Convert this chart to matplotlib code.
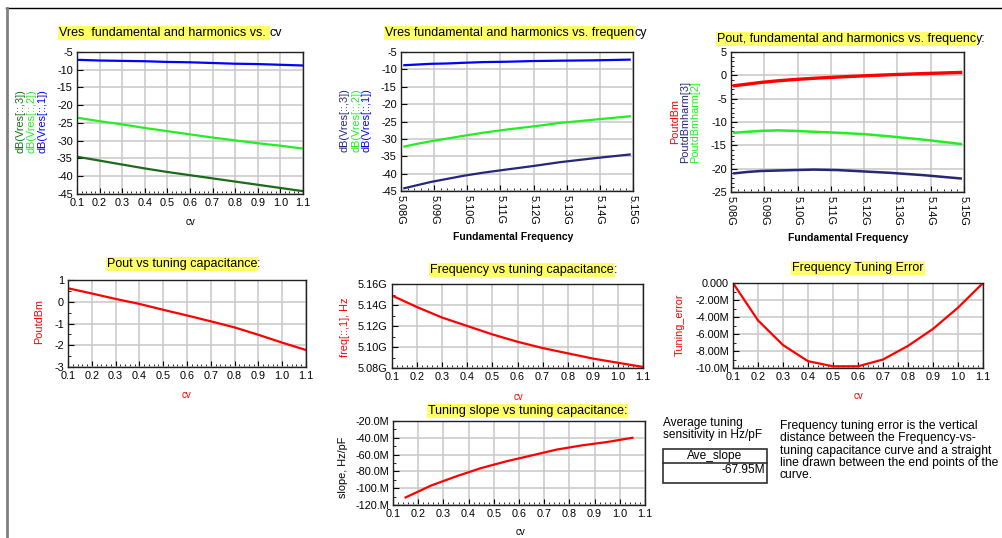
import matplotlib
matplotlib.use("Agg")
import matplotlib.pyplot as plt
from matplotlib.patches import Rectangle
from matplotlib.lines import Line2D
from matplotlib.text import Annotation
from matplotlib.ticker import MultipleLocator

plt.rcParams["font.family"] = ["Liberation Sans", "DejaVu Sans"]
plt.rcParams["axes.unicode_minus"] = False

W, H = 1002, 538

cv = [0.1, 0.2, 0.3, 0.4, 0.5, 0.6, 0.7, 0.8, 0.9, 1.0, 1.1]
freq_ghz = [5.149, 5.138, 5.128, 5.120, 5.112, 5.105, 5.099, 5.094, 5.089, 5.085, 5.081]

vres_fund = [-7.2, -7.4, -7.5, -7.6, -7.8, -7.9, -8.1, -8.3, -8.4, -8.6, -8.8]
vres_h2 = [-23.5, -24.5, -25.4, -26.4, -27.3, -28.2, -29.1, -29.9, -30.7, -31.4, -32.2]
vres_h3 = [-34.5, -35.6, -36.7, -37.8, -38.8, -39.7, -40.6, -41.5, -42.4, -43.3, -44.2]

pout_dbm = [0.62, 0.38, 0.13, -0.10, -0.37, -0.63, -0.90, -1.18, -1.52, -1.88, -2.22]
pout_h2 = [-14.7, -13.8, -13.1, -12.6, -12.3, -12.1, -11.9, -11.8, -11.9, -12.1, -12.3]
pout_h3 = [-22.1, -21.4, -20.9, -20.6, -20.3, -20.2, -20.3, -20.4, -20.5, -20.7, -21.0]

tuning_error_m = [0.0, -4.4, -7.3, -9.2, -9.8, -9.8, -9.0, -7.4, -5.4, -2.9, 0.0]

cv_mid = [0.15, 0.25, 0.35, 0.45, 0.55, 0.65, 0.75, 0.85, 0.95, 1.05]
slope_m = [-111, -97, -86, -76, -68, -61, -54, -49, -45, -40]
ave_slope = "-67.95M"

cv_ticks = [0.1, 0.2, 0.3, 0.4, 0.5, 0.6, 0.7, 0.8, 0.9, 1.0, 1.1]
f_ticks = [5.08, 5.09, 5.10, 5.11, 5.12, 5.13, 5.14, 5.15]
f_labels = ["5.08G", "5.09G", "5.10G", "5.11G", "5.12G", "5.13G", "5.14G", "5.15G"]
fy_ticks = [5.08, 5.10, 5.12, 5.14, 5.16]
fy_labels = ["5.08G", "5.10G", "5.12G", "5.14G", "5.16G"]
err_ticks = [-10, -8, -6, -4, -2, 0]
err_labels = ["-10.0M", "-8.00M", "-6.00M", "-4.00M", "-2.00M", "0.000"]
slope_ticks = [-120, -100, -80, -60, -40, -20]
slope_labels = ["-120.M", "-100.M", "-80.0M", "-60.0M", "-40.0M", "-20.0M"]

BLUE = "#0000ff"
GREEN = "#22ee22"
DKGREEN = "#1b6b1b"
NAVY = "#26267a"
RED = "#ff0000"
HILITE = "#ffff66"

fig = plt.figure(figsize=(W / 100, H / 100), dpi=100)


def fx(x):
    return x / W


def fy(y):
    return 1 - y / H


def panel(left, top, right, bottom):
    ax = fig.add_axes([fx(left), fy(bottom), (right - left) / W, (bottom - top) / H])
    ax.grid(True, color="#c8c8c8", linewidth=1.1)
    ax.set_axisbelow(True)
    for s in ax.spines.values():
        s.set_linewidth(1.0)
        s.set_color("#202020")
    ax.tick_params(which="both", direction="in", labelsize=7.8, pad=3)
    ax.tick_params(which="major", length=4)
    ax.tick_params(which="minor", length=2.5)
    return ax


def cv_axis(ax):
    ax.set_xlim(0.1, 1.1)
    ax.set_xticks(cv_ticks, [f"{t:.1f}" for t in cv_ticks])
    ax.xaxis.set_minor_locator(MultipleLocator(0.02))


def f_axis(ax):
    ax.set_xlim(5.08, 5.15)
    ax.set_xticks(f_ticks, f_labels, rotation=270, ha="center", va="top")
    ax.xaxis.set_minor_locator(MultipleLocator(0.002))


def label(x, y, s, color="black", rot=0, size=7.8, **kw):
    fig.text(fx(x), fy(y), s, color=color, rotation=rot, fontsize=size,
             ha="center", va="center", **kw)


def title(x, y, hi, rest=""):
    t = fig.text(fx(x), fy(y), hi, ha="left", va="center", fontsize=9,
                 bbox=dict(boxstyle="square,pad=0.08", fc=HILITE, ec="none"))
    if rest:
        fig.add_artist(Annotation(rest, xy=(1, 0.5), xycoords=t, ha="left",
                                  va="center", fontsize=9))


# ---- Vres vs cv ----
ax = panel(77, 52, 303, 194)
ax.plot(cv, vres_fund, color=BLUE, lw=1.6)
ax.plot(cv, vres_h2, color=GREEN, lw=1.6)
ax.plot(cv, vres_h3, color=DKGREEN, lw=1.6)
ax.set_ylim(-45, -5)
ax.set_yticks(range(-45, 0, 5))
cv_axis(ax)
title(59, 33, "Vres  fundamental and harmonics vs. ", "cv")
label(21, 121, "dB(Vres[::,3])", DKGREEN, 90)
label(32, 121, "dB(Vres[::,2])", GREEN, 90)
label(42, 121, "dB(Vres[::,1])", BLUE, 90)
label(190, 222, "cv", size=7)

# ---- Vres vs frequency ----
ax = panel(401, 52, 633, 191)
ax.plot(freq_ghz, vres_fund, color=BLUE, lw=1.6)
ax.plot(freq_ghz, vres_h2, color=GREEN, lw=1.6)
ax.plot(freq_ghz, vres_h3, color=NAVY, lw=1.6)
ax.set_ylim(-45, -5)
ax.set_yticks(range(-45, 0, 5))
f_axis(ax)
title(385, 33, "Vres fundamental and harmonics vs. frequen", "cy")
label(345, 120, "dB(Vres[::,3])", NAVY, 90)
label(356, 120, "dB(Vres[::,2])", GREEN, 90)
label(366, 120, "dB(Vres[::,1])", BLUE, 90)
label(513, 237, "Fundamental Frequency", weight="bold", size=7.5)

# ---- Pout vs frequency ----
ax = panel(731, 52, 964, 192)
ax.plot(freq_ghz, pout_dbm, color=RED, lw=2.4)
ax.plot(freq_ghz, pout_h2, color=GREEN, lw=1.8)
ax.plot(freq_ghz, pout_h3, color=NAVY, lw=1.8)
ax.set_ylim(-25, 5)
ax.set_yticks(range(-25, 6, 5))
ax.yaxis.set_minor_locator(MultipleLocator(1))
f_axis(ax)
title(717, 39, "Pout, fundamental and harmonics vs. frequenc", "y:")
label(675, 121, "PoutdBm", RED, 90)
label(685, 122, "PoutdBmharm[3]", NAVY, 90)
label(695, 122, "PoutdBmharm[2]", GREEN, 90)
label(848, 238, "Fundamental Frequency", weight="bold", size=7.5)

# ---- Pout vs cv ----
ax = panel(68, 280, 306, 367)
ax.plot(cv, pout_dbm, color=RED, lw=1.6)
ax.set_ylim(-3, 1)
ax.set_yticks([-3, -2, -1, 0, 1])
ax.yaxis.set_minor_locator(MultipleLocator(0.5))
cv_axis(ax)
title(107, 264, "Pout vs tuning capacitance", ":")
label(39, 322, "PoutdBm", RED, 90)
label(187, 395, "cv", RED, size=7)

# ---- Frequency vs cv ----
ax = panel(392, 284, 643, 368)
ax.plot(cv, freq_ghz, color=RED, lw=1.6)
ax.set_ylim(5.08, 5.16)
ax.set_yticks(fy_ticks, fy_labels)
ax.yaxis.set_minor_locator(MultipleLocator(0.01))
cv_axis(ax)
title(430, 270, "Frequency vs tuning capacitance", ":")
label(345, 327, "freq[::,1], Hz", RED, 90)
label(518, 397, "cv", RED, size=7)

# ---- Tuning error ----
ax = panel(733, 283, 983, 368)
ax.plot(cv, tuning_error_m, color=RED, lw=1.6)
ax.set_ylim(-10, 0)
ax.set_yticks(err_ticks, err_labels)
ax.yaxis.set_minor_locator(MultipleLocator(1))
cv_axis(ax)
title(792, 268, "Frequency Tuning Error")
label(680, 325, "Tuning_error", RED, 90)
label(858, 396, "cv", RED, size=7)

# ---- Tuning slope ----
ax = panel(393, 421, 645, 505)
ax.plot(cv_mid, slope_m, color=RED, lw=1.6)
ax.set_ylim(-120, -20)
ax.set_yticks(slope_ticks, slope_labels)
ax.yaxis.set_minor_locator(MultipleLocator(10))
cv_axis(ax)
title(428, 411, "Tuning slope vs tuning capacitance:")
label(343, 467, "slope, Hz/pF", rot=90)
label(520, 532, "cv", size=7)

# ---- text blocks and the little table ----
fig.text(fx(663), fy(417), "Average tuning\nsensitivity in Hz/pF", fontsize=8.6,
         ha="left", va="top", linespacing=1.05)
fig.add_artist(Rectangle((fx(663), fy(483)), (767 - 663) / W, (483 - 449) / H,
                         transform=fig.transFigure, fill=False, ec="#303030", lw=1.2))
fig.add_artist(Line2D([fx(663), fx(767)], [fy(463), fy(463)],
                      transform=fig.transFigure, color="#303030", lw=1.2))
fig.text(fx(715), fy(456), "Ave_slope", fontsize=8.6, ha="center", va="center")
fig.text(fx(765), fy(470), ave_slope, fontsize=8.6, ha="right", va="center")
fig.text(fx(780), fy(420),
         "Frequency tuning error is the vertical\n"
         "distance between the Frequency-vs-\n"
         "tuning capacitance curve and a straight\n"
         "line drawn between the end points of the\n"
         "curve.", fontsize=8.7, ha="left", va="top", linespacing=1.04)

# page frame
fig.add_artist(Line2D([fx(6), 1], [fy(8), fy(8)], transform=fig.transFigure,
                      color="black", lw=1.0))
fig.add_artist(Line2D([fx(6.5), fx(6.5)], [fy(8), 0], transform=fig.transFigure,
                      color="#808080", lw=2.0))

fig.savefig("out.png", dpi=100)
